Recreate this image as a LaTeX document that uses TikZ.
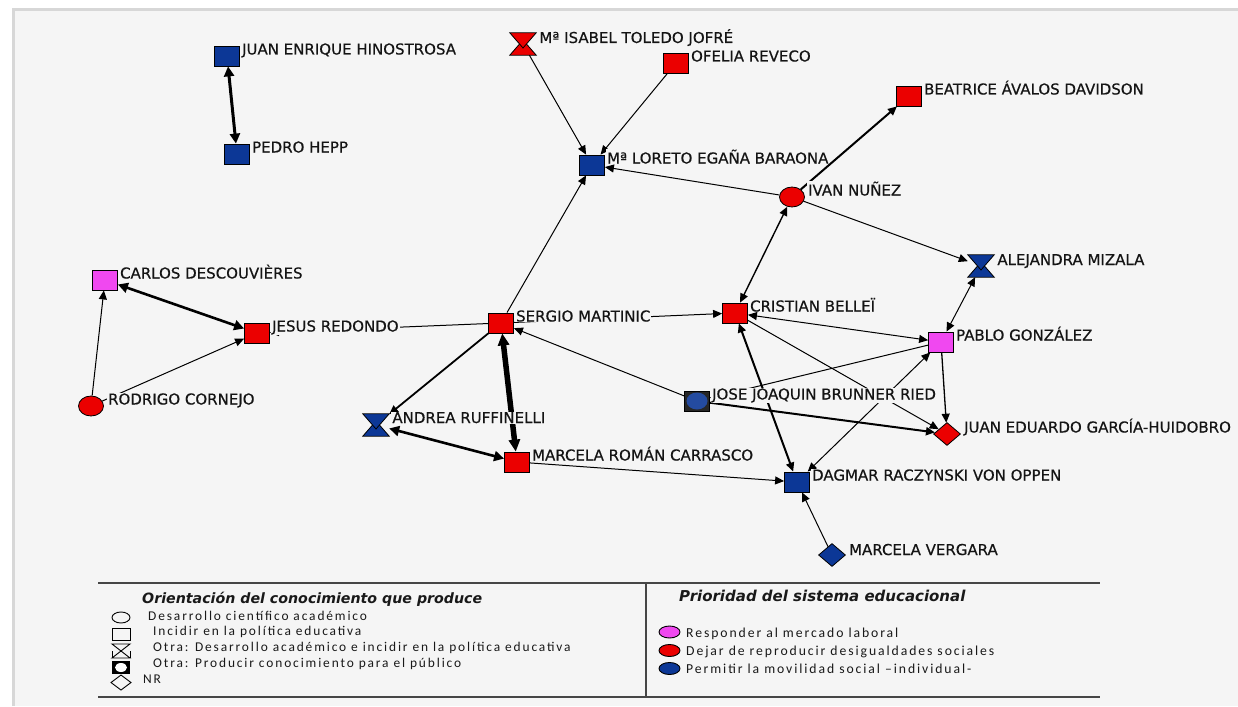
\documentclass[tikz,border=0pt]{standalone}
\usepackage{fontspec}
\setmainfont{DejaVu Sans}
\newfontfamily\labfont[FakeBold=0.5]{DejaVu Sans}
\newfontfamily\legfont[LetterSpace=14]{Carlito}
\usetikzlibrary{arrows.meta,shapes.geometric,calc}
\definecolor{nred}{RGB}{235,0,0}
\definecolor{nblue}{RGB}{12,55,150}
\definecolor{npink}{RGB}{240,72,240}
\definecolor{bgc}{RGB}{245,245,245}
\definecolor{framec}{RGB}{215,215,215}
\definecolor{legline}{RGB}{70,70,70}
\tikzset{
  sq/.style={rectangle, draw=black, line width=0.8pt, minimum width=25pt, minimum height=20pt, inner sep=0pt},
  circ/.style={ellipse, draw=black, line width=0.8pt, minimum width=25pt, minimum height=20pt, inner sep=0pt},
  dia/.style={diamond, draw=black, line width=0.8pt, minimum width=27pt, minimum height=23pt, inner sep=0pt},
  hgbox/.style={rectangle, minimum width=26pt, minimum height=22pt, inner sep=0pt},
  josebox/.style={rectangle, draw=black, fill=black!85, line width=0.8pt, minimum width=25pt, minimum height=20pt, inner sep=0pt,
     path picture={\fill[nblue!90!white] (path picture bounding box.center) ellipse (10.5pt and 8.5pt);}},
  lab/.style={anchor=base west, fill=bgc, inner xsep=1pt, inner ysep=0.5pt, text=black!92, font=\labfont\fontsize{15}{18}\selectfont},
  lk/.style={draw=black, line width=1pt, -{Triangle[length=9pt,width=8pt]}},
  bi/.style={draw=black, line width=1pt, {Triangle[length=9pt,width=8pt]}-{Triangle[length=9pt,width=8pt]}},
  bigbi/.style={draw=black, {Triangle[length=12pt,width=11pt]}-{Triangle[length=12pt,width=11pt]}},
  legx/.style={anchor=base west, inner sep=0pt, text=black!90, font=\legfont\fontsize{13.4}{15}\selectfont},
  legxr/.style={anchor=base west, inner sep=0pt, text=black!90, font=\legfont\fontsize{13.7}{15}\selectfont},
  legt/.style={anchor=base west, inner sep=0pt, text=black!90, font=\bfseries\itshape\fontsize{14.2}{16}\selectfont},
  legtr/.style={anchor=base west, inner sep=0pt, text=black!90, font=\bfseries\itshape\fontsize{15}{16}\selectfont},
  lgline/.style={draw=legline, line width=1.3pt},
}
\begin{document}
\begin{tikzpicture}[x=1pt,y=-1pt]
\useasboundingbox (0,0) rectangle (1238,706);
\fill[white] (0,0) rectangle (1238,706);
\fill[bgc] (13,10) rectangle (1238,706);
\draw[framec, line width=3pt] (13,706) -- (13,10) -- (1238,10);

% nodes
\node[sq, fill=nblue] (hin) at (227,56) {};
\node[sq, fill=nblue] (hep) at (237,154) {};
\node[hgbox] (tol) at (523,44) {};
\node[sq, fill=nred] (ofe) at (676,63) {};
\node[sq, fill=nblue] (lor) at (592,165) {};
\node[sq, fill=nred] (bea) at (909,96) {};
\node[circ, fill=nred] (iva) at (792,197) {};
\node[hgbox] (ale) at (981,266) {};
\node[sq, fill=npink] (car) at (105,280) {};
\node[sq, fill=nred] (jes) at (257,333) {};
\node[circ, fill=nred] (rod) at (91,406) {};
\node[sq, fill=nred] (ser) at (501,323) {};
\node[sq, fill=nred] (cri) at (735,313) {};
\node[sq, fill=npink] (pab) at (941,342) {};
\node[josebox] (jos) at (697,401) {};
\node[dia, fill=nred] (jua) at (947,434) {};
\node[hgbox] (and) at (376,425) {};
\node[sq, fill=nred] (mrc) at (517,462) {};
\node[sq, fill=nblue] (dag) at (797,482) {};
\node[dia, fill=nblue] (mve) at (832,555) {};

% hourglass shapes: two overlapping triangles
\foreach \n/\c in {tol/nred, ale/nblue, and/nblue}{
  \filldraw[fill=\c, draw=black, line width=0.8pt, line join=miter]
    (\n.south west) -- (\n.south east) -- ($(\n.center)+(0,-4)$) -- cycle;
  \filldraw[fill=\c, draw=black, line width=0.8pt, line join=miter]
    (\n.north west) -- (\n.north east) -- ($(\n.center)+(0,4)$) -- cycle;
}

% connectors
\draw[bigbi, line width=3pt, {Triangle[length=10pt,width=10pt]}-{Triangle[length=10pt,width=10pt]}] (hin) -- (hep);
\draw[lk] (tol) -- (lor);
\draw[lk] (ofe) -- (lor);
\draw[lk] (iva) -- (lor);
\draw[lk] (ser) -- (lor);
\draw[lk, line width=2pt] (iva) -- (bea);
\draw[lk] (iva) -- (ale);
\draw[bi, line width=1.4pt] (cri) -- (iva);
\draw[bigbi, line width=2.6pt, {Triangle[length=10pt,width=10pt]}-{Triangle[length=10pt,width=10pt]}] (car) -- (jes);
\draw[lk] (rod) -- (car);
\draw[lk] (rod) -- (jes);
\draw[lk] (ser) -- (jes);
\draw[lk] (ser) -- (cri);
\draw[lk, line width=1.8pt] (ser) -- (and);
\draw[bigbi, line width=5.5pt] (ser) -- (mrc);
\draw[bigbi, line width=2.6pt, {Triangle[length=10pt,width=10pt]}-{Triangle[length=10pt,width=10pt]}] (and) -- (mrc);
\draw[lk] (jos) -- (ser);
\draw[lk, line width=2pt] (jos) -- (jua);
\draw[lk] (pab) -- (jos);
\draw[bi] (cri) -- (pab);
\draw[lk] (cri) -- (jua);
\draw[bi, line width=2pt] (cri) -- (dag);
\draw[bi] (dag) -- (pab);
\draw[lk, line width=1.3pt] (pab) -- (jua);
\draw[bi] (ale) -- (pab);
\draw[lk] (mrc) -- (dag);
\draw[lk] (mve) -- (dag);

% labels
\node[lab] (lhin) at ($(hin.east)+(1,-1.5)$) {JUAN ENRIQUE HINOSTROSA};
\node[lab] (lhep) at ($(hep.east)+(1,-1.5)$) {PEDRO HEPP};
\node[lab] (ltol) at ($(tol.east)+(2,-1)$) {Mª ISABEL TOLEDO JOFRÉ};
\node[lab] (lofe) at ($(ofe.east)+(1,-1.5)$) {OFELIA REVECO};
\node[lab] (llor) at ($(lor.east)+(1,-1.5)$) {Mª LORETO EGAÑA BARAONA};
\node[lab] (lbea) at ($(bea.east)+(1,-1.5)$) {BEATRICE ÁVALOS DAVIDSON};
\node[lab] (liva) at ($(iva.east)+(2,-1.5)$) {IVAN NUÑEZ};
\node[lab] (lale) at ($(ale.east)+(2,-1)$) {ALEJANDRA MIZALA};
\node[lab] (lcar) at ($(car.east)+(1,-1.5)$) {CARLOS DESCOUVIÈRES};
\node[lab] (ljes) at ($(jes.east)+(1,-1.5)$) {JESUS REDONDO};
\node[lab] (lrod) at ($(rod.east)+(3,-1.5)$) {RODRIGO CORNEJO};
\node[lab] (lser) at ($(ser.east)+(1,-1.5)$) {SERGIO MARTINIC};
\node[lab] (lcri) at ($(cri.east)+(1,-1.5)$) {CRISTIAN BELLEÏ};
\node[lab] (lpab) at ($(pab.east)+(1,-1.5)$) {PABLO GONZÁLEZ};
\node[lab] (ljos) at ($(jos.east)+(1,-1.5)$) {JOSE JOAQUIN BRUNNER RIED};
\node[lab] (ljua) at ($(jua.east)+(2,-1.5)$) {JUAN EDUARDO GARCÍA-HUIDOBRO};
\node[lab] (land) at ($(and.east)+(2,-2)$) {ANDREA RUFFINELLI};
\node[lab] (lmrc) at ($(mrc.east)+(1,-1.5)$) {MARCELA ROMÁN CARRASCO};
\node[lab] (ldag) at ($(dag.east)+(1,-1.5)$) {DAGMAR RACZYNSKI VON OPPEN};
\node[lab] (lmve) at ($(mve.east)+(2,0)$) {MARCELA VERGARA};

% legend frame
\draw[lgline] (98,583) -- (1100,583);
\draw[lgline] (98,697) -- (1100,697);
\draw[lgline] (646,583) -- (646,697);

% left legend
\node[legt] (lt1) at (142,603) {Orientación del conocimiento que produce};
\draw[black, line width=0.9pt] (121,617.5) ellipse (9 and 5.5);
\draw[black, line width=0.9pt] (112,628) rectangle (130,640);
\draw[black, line width=0.9pt] (112,644) -- (130,644) -- (112,658) -- (130,658) -- cycle;
\draw[black, line width=0.9pt] (112,651) -- (112,658) (130,651) -- (130,658);
\fill[black] (112,661) rectangle (130,674);
\fill[white] (121,667.5) ellipse (6 and 4.5);
\draw[black, line width=0.9pt] (121,675) -- (131,682.5) -- (121,690) -- (111,682.5) -- cycle;
\node[legx] (l1) at (148,620) {Desarrollo científico académico};
\node[legx] (l2) at (153,635.5) {Incidir en la política educativa};
\node[legx] (l3) at (153,651.5) {Otra: Desarrollo académico e incidir en la política educativa};
\node[legx] (l4) at (153,667) {Otra: Producir conocimiento para el público};
\node[legx] (l5) at (143,683) {NR};

% right legend
\node[legtr] (rt) at (679,601) {Prioridad del sistema educacional};
\filldraw[fill=npink, draw=black, line width=0.9pt] (669.5,632) ellipse (10.5 and 6);
\filldraw[fill=nred, draw=black, line width=0.9pt] (669.5,650.5) ellipse (10.5 and 6);
\filldraw[fill=nblue, draw=black, line width=0.9pt] (669.5,668.5) ellipse (10.5 and 6);
\node[legxr] (r1) at (686,637) {Responder al mercado laboral};
\node[legxr] (r2) at (686,655) {Dejar de reproducir desigualdades sociales};
\node[legxr] (r3) at (686,673) {Permitir la movilidad social –individual-};
\end{tikzpicture}
\end{document}
